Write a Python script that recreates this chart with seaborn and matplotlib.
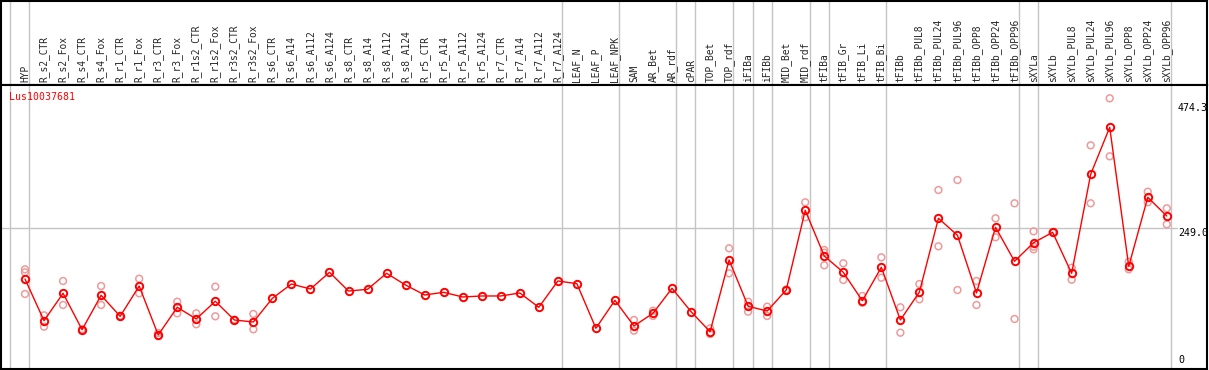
import matplotlib
matplotlib.use("Agg")
import matplotlib.pyplot as plt
import pandas as pd
import seaborn as sns

samples = [
    "HYP", "R_s2_CTR", "R_s2_Fox", "R_s4_CTR", "R_s4_Fox", "R_r1_CTR", "R_r1_Fox",
    "R_r3_CTR", "R_r3_Fox", "R_r1s2_CTR", "R_r1s2_Fox", "R_r3s2_CTR", "R_r3s2_Fox",
    "R_s6_CTR", "R_s6_A14", "R_s6_A112", "R_s6_A124", "R_s8_CTR", "R_s8_A14",
    "R_s8_A112", "R_s8_A124", "R_r5_CTR", "R_r5_A14", "R_r5_A112", "R_r5_A124",
    "R_r7_CTR", "R_r7_A14", "R_r7_A112", "R_r7_A124", "LEAF_N", "LEAF_P", "LEAF_NPK",
    "SAM", "AR_Bet", "AR_rdf", "cPAR", "TOP_Bet", "TOP_rdf", "iFIBa", "iFIBb",
    "MID_Bet", "MID_rdf", "tFIBa", "tFIB_Gr", "tFIB_Li", "tFIB_Bi", "tFIBb",
    "tFIBb_PUL8", "tFIBb_PUL24", "tFIBb_PUL96", "tFIBb_OPP8", "tFIBb_OPP24",
    "tFIBb_OPP96", "sXYLa", "sXYLb", "sXYLb_PUL8", "sXYLb_PUL24", "sXYLb_PUL96",
    "sXYLb_OPP8", "sXYLb_OPP24", "sXYLb_OPP96",
]

means = [
    158.0, 83.1, 132.3, 67.0, 128.7, 91.0, 145.4, 57.5, 107.2, 86.2, 118.0, 84.4, 80.8,
    123.3, 149.0, 140.0, 170.0, 136.4, 139.5, 168.2, 147.2, 129.3, 134.1, 125.7, 127.5,
    127.5, 132.9, 107.2, 154.4, 149.6, 69.5, 119.7,
    73.6, 96.4, 141.3, 99.3, 63.4, 192.1, 109.0, 100.5, 138.2, 281.3, 199.3, 170.0,
    119.0, 179.0, 84.4, 134.6, 267.0, 236.4, 132.9, 250.8, 189.8, 223.2, 241.8, 168.2,
    346.0, 430.3, 180.8, 304.7, 271.1,
]

replicates = [
    [175.4, 170.0, 131.1], [92.8, 72.4], [154.4, 111.3], [66.0, 68.0], [145.4, 111.3],
    [92.0, 90.0], [158.5, 132.3], [61.0, 55.7], [117.2, 96.4], [96.4, 76.7],
    [144.2, 91.0], [85.0, 84.0], [95.2, 67.7],
    [], [], [], [], [], [], [], [], [], [], [], [], [], [], [], [], [], [], [],
    [84.4, 65.2], [101.1, 91.6], [], [], [69.5, 59.2], [213.1, 168.2], [117.2, 99.3],
    [108.3, 91.6], [139.0, 137.5], [295.7, 268.8], [210.1, 205.2, 182.6],
    [186.2, 156.2], [127.5, 115.4], [196.9, 160.3], [107.2, 61.6], [149.0, 121.5],
    [317.8, 216.7], [335.7, 138.2], [154.4, 111.3], [267.0, 232.9], [293.9, 86.2],
    [243.6, 216.0, 211.3], [242.0, 241.5], [178.3, 156.7], [398.0, 293.9],
    [482.4, 378.3], [189.0, 175.4], [314.7, 295.7], [284.9, 256.2],
]

# index of the last sample in each group
group_ends = [0, 28, 31, 34, 35, 37, 38, 39, 41, 42, 45, 52, 53, 60]
gene = "Lus10037681"
scale_labels = ["474.3", "249.0", "0"]
scale_values = [474.3, 249.0, 2.7]
grid_value = 249.0

sns.set_style("white")
plt.rcParams["font.family"] = ["DejaVu Sans Mono"]

W, H = 1209, 370
fig = plt.figure(figsize=(W / 100, H / 100), dpi=100)


def px_box(left, top, right, bottom):
    return [left / W, 1 - bottom / H, (right - left) / W, (bottom - top) / H]


head = fig.add_axes(px_box(1, 1, 1207, 85))
ax = fig.add_axes(px_box(1, 85, 1207, 369))

step, x0 = 19.03, 25
xlim = ((1 - x0) / step, (1207 - x0) / step)

mean_df = pd.DataFrame({"pos": range(len(samples)), "sample": samples, "value": means})
rep_df = pd.DataFrame(
    [(i, v) for i, reps in enumerate(replicates) for v in reps], columns=["pos", "value"]
)

sep_x = [-0.79] + [k + 0.23 for k in group_ends]
for a in (head, ax):
    for sx in sep_x:
        a.axvline(sx, color="#c4c4c4", lw=1, zorder=0)
    a.set_xlim(*xlim)
    a.set_xticks([])
    a.set_yticks([])
    for s in a.spines.values():
        s.set_color("black")
        s.set_linewidth(1.5)

ax.axhline(grid_value, xmax=(1177 - 1) / 1206, color="#c4c4c4", lw=1, zorder=0)

sns.scatterplot(data=rep_df, x="pos", y="value", ax=ax, marker="o", s=24,
                facecolors="none", edgecolor="#ee9a9a", linewidth=1.1, zorder=2)
sns.lineplot(data=mean_df, x="pos", y="value", ax=ax, color="red", lw=1,
             marker="o", markersize=5.3, markerfacecolor="none",
             markeredgecolor="red", markeredgewidth=1.4, zorder=3)

ax.set_ylim(-3.6, 506.3)
ax.set_xlim(*xlim)
ax.set_xlabel("")
ax.set_ylabel("")

for lab, val in zip(scale_labels, scale_values):
    ax.text(60.59, val, lab, ha="left", va="bottom" if lab == "0" else "top",
            fontsize=7.2, color="black")

ax.text(0.007, 1 - 12 / 284, gene, transform=ax.transAxes, color="red",
        fontsize=7.1, ha="left", va="center")

head.set_ylim(0, 84)
for i, name in enumerate(samples):
    head.text(i, 2.5, name, rotation=90, ha="center", va="bottom", fontsize=6.9)

fig.savefig("out.png", dpi=100)
